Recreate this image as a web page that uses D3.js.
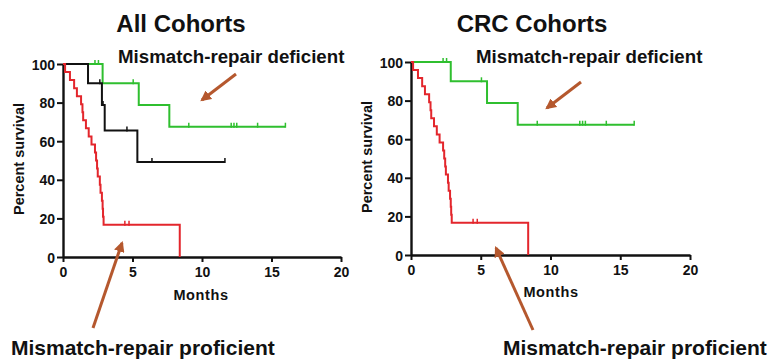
<!DOCTYPE html>
<html>
<head>
<meta charset="utf-8">
<script src="https://cdn.jsdelivr.net/npm/d3@7/dist/d3.min.js"></script>
<style>
  html, body { margin: 0; padding: 0; background: #fff; }
  svg text { font-family: "Liberation Sans", Arial, sans-serif; fill: #111; }
</style>
</head>
<body>
<svg id="chart" width="774" height="361"></svg>
<script>
// Axis ticks
const monthTicks = [0, 5, 10, 15, 20];
const survivalTicks = [0, 20, 40, 60, 80, 100];

// Mismatch-repair proficient (red): step times (months) and percent survival
const proficientTimes = [0, 0.15, 0.5, 0.8, 1.0, 1.3, 1.4, 1.45, 1.65, 1.85, 2.05, 2.3, 2.38, 2.45, 2.5, 2.65, 2.7, 2.8, 2.85, 2.88, 2.92, 8.4];
const proficientSurvival = [100, 95.8, 91.7, 87.5, 83.3, 79.2, 75, 70.8, 66.7, 62.5, 58.3, 54.2, 50, 45.8, 41.7, 37.5, 33.3, 29.2, 25, 20.8, 16.7, 0];
const proficientCensorTimes = [4.45, 4.75];
const proficientCensorSurvival = [16.7, 16.7];

// Mismatch-repair deficient (green)
const deficientTimes = [0, 2.85, 5.45, 7.65, 16.0];
const deficientSurvival = [100, 90, 78.75, 67.5, 67.5];
const deficientCensorTimes = [2.3, 2.55, 5.05, 9.05, 12.1, 12.3, 12.5, 14.0, 16.0];
const deficientCensorSurvival = [100, 100, 90, 67.5, 67.5, 67.5, 67.5, 67.5, 67.5];

// Other cohort (black), shown in the all-cohorts panel only
const otherTimes = [0, 1.8, 2.8, 3.0, 5.35, 11.65];
const otherSurvival = [100, 90, 78.75, 65.6, 49.2, 49.2];
const otherCensorTimes = [2.65, 2.88, 4.6, 6.4, 11.65];
const otherCensorSurvival = [90, 78.75, 65.6, 49.2, 49.2];

const GREEN = "#2fbf2f", RED = "#e3262c", BLACK = "#111", ARROW = "#b5582e";
const FONT = '"Liberation Sans", Arial, sans-serif';

const zip = (a, b) => a.map((v, i) => [v, b[i]]);
const svg = d3.select("#chart");

const defs = svg.append("defs");
defs.append("marker")
  .attr("id", "arrowHead")
  .attr("viewBox", "0 0 10 10")
  .attr("refX", 8).attr("refY", 5)
  .attr("markerWidth", 3.6).attr("markerHeight", 3.6)
  .attr("markerUnits", "strokeWidth")
  .attr("orient", "auto")
  .append("path")
  .attr("d", "M0,0 L10,5 L0,10 z")
  .attr("fill", ARROW);

function panel(cfg) {
  const x = d3.scaleLinear().domain([0, 20]).range([cfg.x0, cfg.x1]);
  const y = d3.scaleLinear().domain([0, 100]).range([cfg.y0, cfg.y1]);
  const g = svg.append("g");

  // Axes
  const xAxis = g.append("g")
    .attr("transform", `translate(0,${cfg.y0})`)
    .call(d3.axisBottom(x).tickValues(monthTicks).tickSize(5).tickPadding(3).tickSizeOuter(0));
  const yAxis = g.append("g")
    .attr("transform", `translate(${cfg.x0},0)`)
    .call(d3.axisLeft(y).tickValues(survivalTicks).tickSize(6).tickPadding(2).tickSizeOuter(0));
  [xAxis, yAxis].forEach(a => {
    a.select(".domain").attr("stroke", BLACK).attr("stroke-width", 2.4);
    a.selectAll(".tick line").attr("stroke", BLACK).attr("stroke-width", 2);
    a.selectAll(".tick text")
      .attr("font-family", FONT).attr("font-size", 14).attr("font-weight", "bold")
      .attr("fill", "#111");
  });
  xAxis.selectAll(".tick text").attr("dy", "0.88em");
  yAxis.selectAll(".tick text").attr("dy", "0.36em");

  const line = d3.line()
    .x(d => x(d[0])).y(d => y(d[1]))
    .curve(d3.curveStepAfter);

  cfg.series.forEach(s => {
    g.append("path")
      .datum(zip(s.times, s.surv))
      .attr("fill", "none")
      .attr("stroke", s.color)
      .attr("stroke-width", 2)
      .attr("d", line);
    g.selectAll(null)
      .data(zip(s.cTimes, s.cSurv))
      .enter().append("line")
      .attr("x1", d => x(d[0])).attr("x2", d => x(d[0]))
      .attr("y1", d => y(d[1]) - 4).attr("y2", d => y(d[1]) + 1)
      .attr("stroke", s.color).attr("stroke-width", 1.5);
  });

  // Titles and labels
  g.append("text")
    .attr("x", cfg.titleX).attr("y", 32)
    .attr("text-anchor", "middle")
    .attr("font-size", 24).attr("font-weight", "bold")
    .text(cfg.title);
  g.append("text")
    .attr("x", cfg.monthsX).attr("y", cfg.monthsY)
    .attr("text-anchor", "middle")
    .attr("font-size", 14.5).attr("font-weight", "bold")
    .attr("letter-spacing", 0.6)
    .text("Months");
  g.append("text")
    .attr("transform", `translate(${cfg.ylabX},${cfg.ylabY}) rotate(-90)`)
    .attr("text-anchor", "middle")
    .attr("font-size", 14.5).attr("font-weight", "bold")
    .text("Percent survival");

  // Annotations
  g.append("text")
    .attr("x", cfg.defX).attr("y", 63)
    .attr("font-size", 18.7).attr("font-weight", "bold")
    .text("Mismatch-repair deficient");
  g.append("text")
    .attr("x", cfg.proX).attr("y", 355)
    .attr("font-size", 21).attr("font-weight", "bold")
    .text("Mismatch-repair proficient");

  cfg.arrows.forEach(a => {
    g.append("line")
      .attr("x1", a[0]).attr("y1", a[1]).attr("x2", a[2]).attr("y2", a[3])
      .attr("stroke", ARROW).attr("stroke-width", 3)
      .attr("marker-end", "url(#arrowHead)");
  });
}

const red = { times: proficientTimes, surv: proficientSurvival, cTimes: proficientCensorTimes, cSurv: proficientCensorSurvival, color: RED };
const green = { times: deficientTimes, surv: deficientSurvival, cTimes: deficientCensorTimes, cSurv: deficientCensorSurvival, color: GREEN };
const black = { times: otherTimes, surv: otherSurvival, cTimes: otherCensorTimes, cSurv: otherCensorSurvival, color: BLACK };

panel({
  x0: 63, x1: 341, y0: 257, y1: 64,
  title: "All Cohorts", titleX: 181,
  monthsX: 201, monthsY: 300,
  ylabX: 24, ylabY: 159,
  defX: 118, proX: 11,
  series: [green, black, red],
  arrows: [[236, 74, 202, 100], [93, 328, 122, 243]]
});

panel({
  x0: 411, x1: 690, y0: 255, y1: 62,
  title: "CRC Cohorts", titleX: 532,
  monthsX: 551, monthsY: 297,
  ylabX: 372, ylabY: 157,
  defX: 476, proX: 503,
  series: [green, red],
  arrows: [[581, 82, 547, 108], [533, 330, 496, 248]]
});
</script>
</body>
</html>
